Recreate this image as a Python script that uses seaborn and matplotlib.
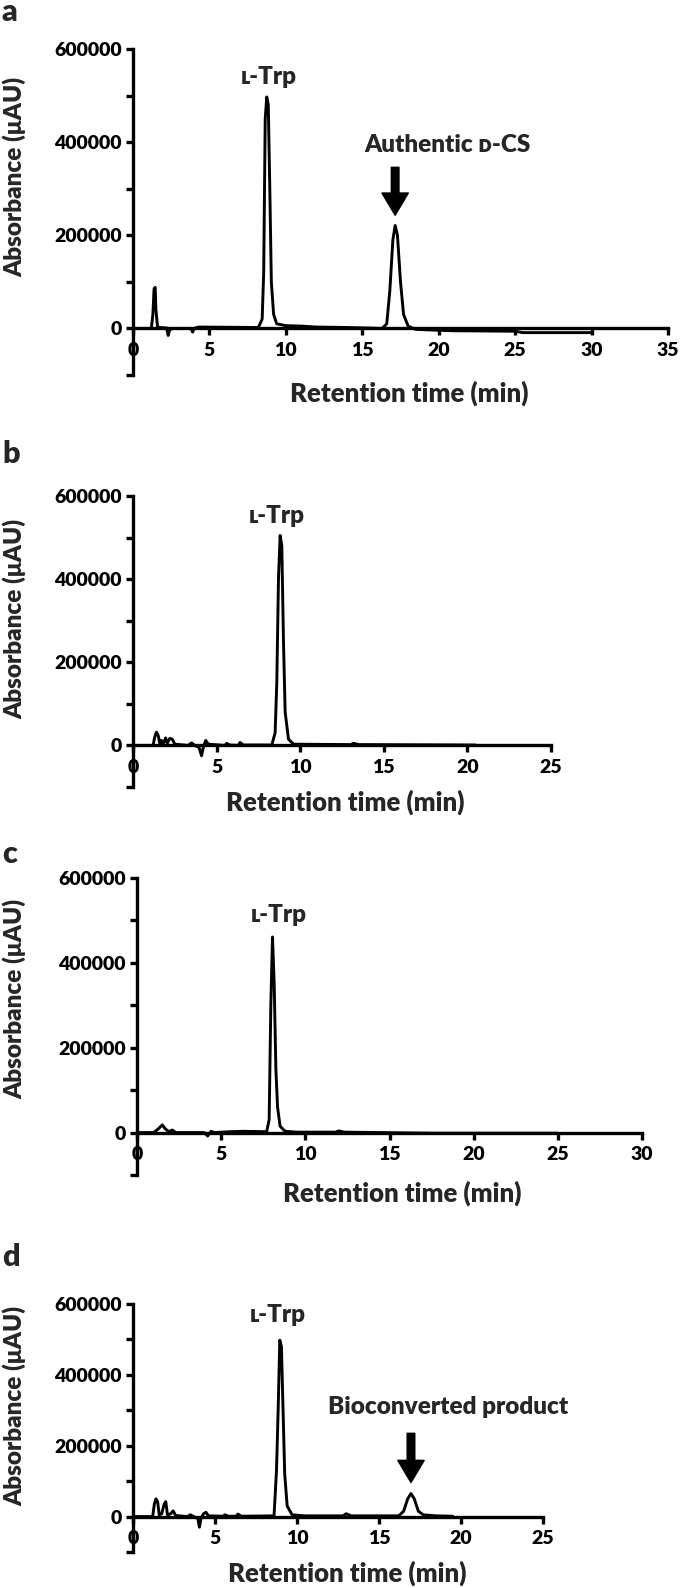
import numpy as np
import pandas as pd
import matplotlib
matplotlib.use("Agg")
import matplotlib.pyplot as plt
import seaborn as sns

sns.set_style("ticks")
plt.rcParams['font.family'] = ['Lato', 'DejaVu Sans']
plt.rcParams['font.weight'] = 'heavy'

# ---------------- data ----------------
time_a = [0, 1.2, 1.3, 1.38, 1.45, 1.5, 1.6, 1.7, 2.2, 2.3, 2.4, 2.6, 3.8, 3.9, 4.0, 4.3,
          8.2, 8.45, 8.55, 8.65, 8.75, 8.85, 8.95, 9.05, 9.2, 9.4, 10, 11, 12, 14,
          16.3, 16.6, 16.8, 17.0, 17.15, 17.3, 17.5, 17.7, 18.0, 18.5, 20, 21, 25, 25.5, 30]
abs_a = [0, 0, 30000, 85000, 88000, 40000, 5000, 2000, 1000, -15000, -3000, 0, 0, -8000, 0, 3000,
         2000, 20000, 120000, 450000, 497000, 480000, 300000, 100000, 30000, 10000, 6000, 5000, 3000, 2000,
         0, 10000, 80000, 190000, 221000, 200000, 100000, 30000, 5000, -2000, -4000, -5000, -6000, -9000, -9000]

time_b = [0, 1.2, 1.3, 1.4, 1.5, 1.6, 1.7, 1.8, 1.95, 2.05, 2.2, 2.35, 2.5, 3.3, 3.5, 3.7,
          3.95, 4.1, 4.2, 4.35, 4.5, 5.5, 5.6, 5.8, 6.3, 6.4, 6.6, 8.3, 8.5, 8.6, 8.7, 8.8,
          8.9, 9.0, 9.1, 9.3, 9.6, 13.0, 13.2, 13.5, 20.5]
abs_b = [0, 0, 20000, 32000, 25000, 5000, 12000, 3000, 18000, 5000, 17000, 15000, 3000, 0, 6000, 0,
         -5000, -25000, -5000, 12000, 3000, 0, 5000, 1000, 0, 7000, 1000, 1000, 30000, 150000, 400000, 505000,
         480000, 250000, 80000, 15000, 3000, 2000, 5000, 2000, 1000]

time_c = [0, 1.0, 1.3, 1.5, 1.7, 1.9, 2.1, 2.3, 4.0, 4.2, 4.4, 4.6, 5.5, 6.3, 7.7, 7.85,
          7.95, 8.05, 8.15, 8.25, 8.35, 8.5, 8.8, 9.5, 11.8, 12.0, 12.3, 17.5, 25]
abs_c = [0, 0, 10000, 18000, 8000, 2000, 6000, 0, 0, -8000, 3000, 0, 2000, 3000, 2000, 30000,
         300000, 461000, 350000, 150000, 60000, 15000, 3000, 1000, 1000, 4000, 1000, -1500, -1500]

time_d = [0, 1.2, 1.3, 1.4, 1.5, 1.6, 1.75, 1.9, 2.0, 2.1, 2.3, 2.45, 2.6, 3.3, 3.5, 3.7,
          3.95, 4.05, 4.15, 4.3, 4.45, 4.6, 5.5, 5.6, 5.8, 6.3, 6.4, 6.6, 8.6, 8.75, 8.85, 8.95,
          9.05, 9.15, 9.25, 9.4, 9.7, 10.5, 12.8, 13.0, 13.3, 16.2, 16.5, 16.75, 16.95, 17.15,
          17.4, 17.7, 18.5, 19.5]
abs_d = [0, 0, 35000, 50000, 42000, 5000, 8000, 35000, 42000, 5000, 8000, 16000, 3000, 0, 5000, 0,
         -5000, -30000, -5000, 8000, 12000, 2000, 1000, 5000, 1000, 1000, 7000, 1000, 2000, 130000, 300000, 498000,
         480000, 300000, 120000, 30000, 5000, 2000, 2000, 8000, 2000, 2000, 15000, 50000, 65000, 50000,
         15000, 5000, 2000, 1000]

panel_letters = ['a', 'b', 'c', 'd']
x_max = [35, 25, 30, 25]
y_ticks = [-100000, 0, 100000, 200000, 300000, 400000, 500000, 600000]
y_ticklabels = ['', '0', '', '200000', '', '400000', '', '600000']
x_label = 'Retention time (min)'
y_label = 'Absorbance (μAU)'
trp_label = 'ʟ-Trp'
trp_pos = [(8.9, 540000), (8.6, 552000), (8.45, 513000), (8.8, 569000)]
extra_label = {0: ('Authentic ᴅ-CS', 20.6, 393000, 17.15, 346000, 243000),
               3: ('Bioconverted product', 19.2, 308000, 16.95, 235000, 96000)}

# ---------------- layout ----------------
W, H = 680, 1588
def rect(l, r, t, b):
    return [l / W, 1 - b / H, (r - l) / W, (b - t) / H]

rects = [rect(133, 668, 49, 375), rect(133, 551, 496, 787),
         rect(137, 642, 878, 1175), rect(133, 543, 1304, 1552)]
letter_y = [21, 463, 863, 1266]
xlab_pos = [(0.516, -0.055), (0.507, -0.052), (0.525, -0.061), (0.522, -0.085)]
ylab_y = [0.607, 0.577, 0.593, 0.589]
times = [time_a, time_b, time_c, time_d]
values = [abs_a, abs_b, abs_c, abs_d]

fig = plt.figure(figsize=(6.8, 15.88), dpi=100)
tick_fs = 14
xlab_fs = 18.5
ylab_fs = 17.5
ann_fs = 17.5
W_BOLD = 'heavy'

for i in range(4):
    ax = fig.add_axes(rects[i])
    df = pd.DataFrame({'t': times[i], 'a': values[i]})
    sns.lineplot(data=df, x='t', y='a', ax=ax, color='black', lw=2.1,
                 estimator=None, sort=False)
    ax.set_xlim(0, x_max[i])
    ax.set_ylim(-100000, 600000)
    ax.spines['bottom'].set_position(('data', 0))
    ax.spines['top'].set_visible(False)
    ax.spines['right'].set_visible(False)
    for s in ['left', 'bottom']:
        ax.spines[s].set_linewidth(2.4)
        ax.spines[s].set_color('black')
    ax.set_yticks(y_ticks)
    ax.set_yticklabels(y_ticklabels)
    xt = list(range(0, x_max[i] + 1, 5))
    ax.set_xticks(xt)
    ax.set_xticklabels([str(v) for v in xt])
    ax.tick_params(axis='both', direction='out', length=5, width=2.4, color='black',
                   labelsize=tick_fs, labelcolor='black')
    ax.tick_params(axis='x', pad=5)
    ax.tick_params(axis='y', pad=3)
    for lab in ax.get_xticklabels() + ax.get_yticklabels():
        lab.set_fontweight(W_BOLD)
    ax.set_xlabel(x_label, fontsize=xlab_fs, fontweight=W_BOLD)
    ax.set_ylabel(y_label, fontsize=ylab_fs, fontweight=W_BOLD)
    ax.xaxis.set_label_coords(*xlab_pos[i])
    ax.xaxis.label.set_va('center')
    ax.yaxis.set_label_coords((14 - (rects[i][0] * W)) / (rects[i][2] * W), ylab_y[i])
    ax.yaxis.label.set_va('center')
    ax.text(trp_pos[i][0], trp_pos[i][1], trp_label, ha='center', va='center',
            fontsize=ann_fs, fontweight=W_BOLD)
    if i in extra_label:
        txt, tx, ty, ax_x, a_top, a_tip = extra_label[i]
        ax.text(tx, ty, txt, ha='center', va='center', fontsize=ann_fs, fontweight=W_BOLD)
        ax.annotate('', xy=(ax_x, a_tip), xytext=(ax_x, a_top),
                    arrowprops=dict(arrowstyle='simple,head_width=1.9,head_length=1.6,tail_width=0.55',
                                    fc='black', ec='black', shrinkA=0, shrinkB=0,
                                    mutation_scale=10))
    fig.text(2 / W, 1 - letter_y[i] / H, panel_letters[i], fontsize=22,
             fontweight=W_BOLD, ha='left', va='baseline')

fig.savefig('out.png', dpi=100)
